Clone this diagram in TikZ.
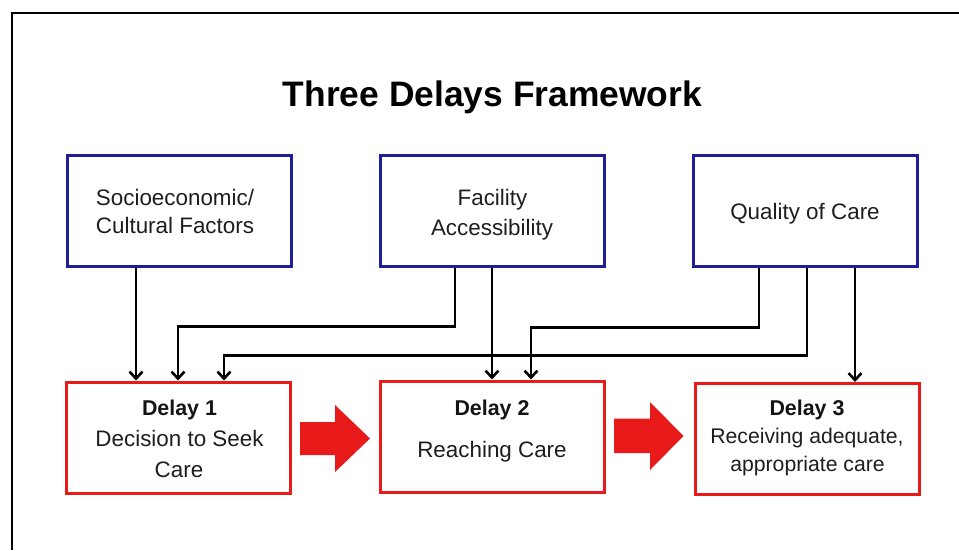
\documentclass[tikz,border=0pt]{standalone}
\usepackage{fontspec}
\setmainfont{Liberation Sans}
\usetikzlibrary{arrows.meta}

\definecolor{boxblue}{RGB}{30,30,150}
\definecolor{boxred}{RGB}{232,26,26}
\definecolor{ink}{RGB}{30,30,30}

\tikzset{
  factor/.style={draw=boxblue, line width=3pt, fill=white,
    minimum width=224pt, minimum height=111pt, inner sep=0pt},
  delaybox/.style={draw=boxred, line width=3pt, fill=white,
    minimum width=224pt, minimum height=111pt, inner sep=0pt},
  txt/.style={anchor=base, inner sep=0pt, text=ink,
    font=\fontsize{22.4}{26}\selectfont},
  smalltxt/.style={txt, font=\fontsize{21.2}{25}\selectfont},
  headtxt/.style={txt, font=\fontsize{21.4}{25}\selectfont\bfseries, text=black!92},
  link/.style={draw=black, line width=2.6pt,
    -{Straight Barb[length=7pt,width=13pt]}},
  flow/.style={fill=boxred, draw=none}
}

\begin{document}
\begin{tikzpicture}[x=1pt, y=-1pt]
  \useasboundingbox (0,0) rectangle (959,550);

  % outer frame
  \draw[line width=2.6pt] (12,550) -- (12,13) -- (959,13);

  % title
  \node[anchor=base, inner sep=0pt, font=\fontsize{35.4}{40}\selectfont\bfseries]
    (title) at (492.5,106.5) {Three Delays Framework};

  % factor boxes
  \node[factor] (b1) at (179,210.5) {};
  \node[factor] (b2) at (492,210.5) {};
  \node[factor] (b3) at (805,210.5) {};

  \node[txt] (b1a) at (175,205) {Socioeconomic/};
  \node[txt] (b1b) at (175,233.5) {Cultural Factors};
  \node[txt] (b2a) at (492.5,205) {Facility};
  \node[txt] (b2b) at (492,235) {Accessibility};
  \node[txt] (b3a) at (805,219) {Quality of Care};

  % delay boxes
  \node[delaybox] (r1) at (178,437.5) {};
  \node[delaybox] (r2) at (492,436.5) {};
  \node[delaybox] (r3) at (807,439) {};

  \node[headtxt] (r1h) at (179.5,415) {Delay 1};
  \node[txt] (r1a) at (179.5,446) {Decision to Seek};
  \node[txt] (r1b) at (179,477) {Care};
  \node[headtxt] (r2h) at (492,415) {Delay 2};
  \node[txt] (r2a) at (492,457) {Reaching Care};
  \node[headtxt] (r3h) at (807,415) {Delay 3};
  \node[smalltxt] (r3a) at (807,443) {Receiving adequate,};
  \node[smalltxt] (r3b) at (807.5,471) {appropriate care};

  % connectors from factors to delays
  \draw[link] ([xshift=-43pt]b1.south) -- ([xshift=-43pt]b1.south |- r1.north);
  \draw[link] ([xshift=-37pt]b2.south) -- ++(0,59) -| (r1.north);
  \draw[link] ([xshift=2pt]b3.south) -- ++(0,88) -| ([xshift=46pt]r1.north);
  \draw[link] (b2.south) -- (b2.south |- r2.north);
  \draw[link] ([xshift=-46pt]b3.south) -- ++(0,60) -| ([xshift=39pt]r2.north);
  \draw[link] ([xshift=50pt]b3.south) -- ([xshift=50pt]b3.south |- r3.north);

  % block arrows between delays
  \fill[flow] (300,422) -- (335,422) -- (335,405) -- (370,438.5)
    -- (335,472) -- (335,455) -- (300,455) -- cycle;
  \fill[flow] (614,418.5) -- (650,418.5) -- (650,402) -- (683.5,436)
    -- (650,470) -- (650,453) -- (614,453) -- cycle;
\end{tikzpicture}
\end{document}
